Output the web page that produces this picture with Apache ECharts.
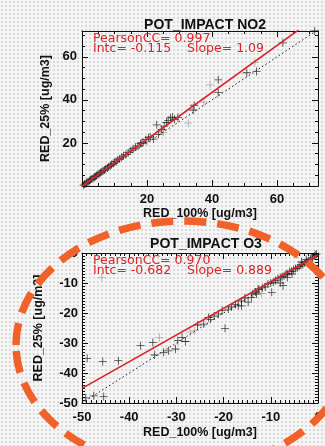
<!DOCTYPE html>
<html>
<head>
<meta charset="utf-8">
<script src="https://cdn.jsdelivr.net/npm/echarts@6/dist/echarts.min.js"></script>
<style>
html,body{margin:0;padding:0;}
body{width:325px;height:446px;background-color:#f5f5f5;background-image:radial-gradient(#d9d9d9 0.7px, transparent 0.9px);background-size:4px 4px;}
#chart{width:325px;height:446px;}
</style>
</head>
<body>
<div id="chart"></div>
<script>
// ---- data ----
const titles = ['POT_IMPACT NO2', 'POT_IMPACT O3'];
const xName = 'RED_100% [ug/m3]';
const yName = 'RED_25% [ug/m3]';
const statsNO2 = { pearson: '0.997', intc: '-0.115', slope: '1.09' };
const statsO3 = { pearson: '0.970', intc: '-0.682', slope: '0.889' };
const no2Black = [[0.5,0.4],[0.8,0.9],[1.2,1.1],[1.5,1.7],[1.9,2.0],[2.3,2.4],[2.6,2.9],[3.0,3.2],[3.4,3.6],[3.8,4.2],[4.1,4.4],[4.5,4.9],[4.9,5.3],[5.3,5.7],[5.7,6.3],[6.1,6.6],[6.5,7.1],[6.9,7.4],[7.3,8.0],[7.8,8.4],[8.2,9.0],[8.7,9.4],[9.1,10.0],[9.6,10.5],[10.1,11.2],[10.5,11.4],[11.0,12.1],[11.6,12.6],[12.2,13.4],[12.8,14.0],[13.5,14.6],[14.2,15.5],[15.0,16.3],[15.7,17.3],[16.5,18.1],[17.2,18.6],[18.0,19.8],[18.4,19.9],[18.8,20.3],[19.6,21.5],[20.5,22.5],[21.0,22.8],[22.0,21.8],[23.0,28.4],[23.5,24.0],[24.5,26.2],[25.3,27.8],[26.0,29.5],[26.5,30.5],[27.2,31.6],[27.8,32.0],[28.5,31.0],[29.5,31.8],[34.5,37.5],[34.2,35.3],[41.9,49.3],[41.9,43.4],[50.7,52.6],[53.7,53.2],[61.8,66.5],[71.6,72.0]];
const no2Grey = [[32.7,29.2],[39.4,47.0],[53.2,57.3],[25.0,24.8],[24.0,25.5],[20.0,20.6],[37.5,39.0]];
const o3Black = [[-0.3,-0.4],[-0.6,-0.5],[-0.8,-1.0],[-1.2,-1.6],[-1.6,-2.0],[-2.0,-2.6],[-2.4,-2.9],[-2.5,-2.2],[-2.8,-3.3],[-3.2,-3.8],[-3.5,-3.0],[-3.6,-4.0],[-4.0,-4.5],[-4.4,-5.0],[-4.8,-5.2],[-5.2,-5.6],[-5.5,-7.0],[-5.6,-6.1],[-6.0,-6.2],[-6.4,-6.8],[-6.5,-8.2],[-6.8,-7.1],[-7.2,-7.6],[-7.4,-10.9],[-7.6,-7.9],[-8.0,-8.2],[-8.0,-10.0],[-8.5,-8.6],[-9.0,-9.2],[-9.5,-9.7],[-9.8,-13.1],[-10.0,-10.0],[-10.6,-10.3],[-11.2,-11.3],[-11.8,-11.6],[-12.5,-12.2],[-12.7,-12.0],[-13.0,-13.7],[-13.2,-13.0],[-13.8,-13.6],[-14.1,-14.8],[-14.8,-16.4],[-15.5,-15.0],[-16.2,-17.6],[-16.2,-16.0],[-16.9,-17.6],[-17.5,-17.2],[-18.3,-18.0],[-19.0,-18.7],[-19.7,-25.1],[-20.3,-19.2],[-21.1,-20.3],[-22.0,-21.0],[-22.8,-22.1],[-23.2,-21.5],[-24.2,-23.7],[-25.5,-24.0],[-28.1,-29.5],[-28.8,-28.1],[-29.7,-29.2],[-30.2,-32.0],[-31.7,-32.6],[-32.7,-33.1],[-34.6,-34.0],[-35.0,-29.8],[-37.6,-30.9],[-42.3,-35.9],[-45.6,-36.2],[-48.9,-35.1],[-45.4,-47.8],[-47.5,-47.6],[-49.2,-48.3]];
const o3Grey = [[-33.6,-28.1],[-27.1,-26.4],[-26.1,-25.8],[-45.8,-8.1],[-12.0,-13.5]];
const rangeNO2 = { xmin: 0, xmax: 72.6, ymin: 0, ymax: 72, interval: 20 };
const rangeO3 = { xmin: -50, xmax: 0, ymin: -50, ymax: 0, interval: 10 };

// ---- chart ----
const plusPath = 'path://M4.5,0h1v4.5h4.5v1h-4.5v4.5h-1v-4.5h-4.5v-1h4.5z';
const font = 'Liberation Sans, Arial, sans-serif';
const annoFont = 'DejaVu Sans, sans-serif';

function axisPair(kind, gi, r, minorSplit, hideZero, nameGap, labelMargin) {
  const min = kind === 'x' ? r.xmin : r.ymin;
  const max = kind === 'x' ? r.xmax : r.ymax;
  const base = {
    gridIndex: gi, type: 'value', min: min, max: max, interval: r.interval,
    axisLine: { show: true, onZero: false, lineStyle: { color: '#111', width: 1 } },
    axisTick: { show: true, inside: true, length: 6, lineStyle: { color: '#111' } },
    minorTick: { show: true, splitNumber: minorSplit, length: 3, lineStyle: { color: '#111' } },
    splitLine: { show: false }
  };
  const main = Object.assign({}, base, {
    position: kind === 'x' ? 'bottom' : 'left',
    name: kind === 'x' ? xName : yName,
    nameLocation: 'middle', nameGap: nameGap,
    nameRotate: kind === 'x' ? 0 : 90,
    nameTextStyle: { fontFamily: font, fontSize: 12.5, fontWeight: 'bold', color: '#111' },
    axisLabel: {
      show: true, margin: labelMargin, fontFamily: font, fontSize: 13, fontWeight: 'bold', color: '#111',
      formatter: function (v) {
        if (Math.abs(v % r.interval) > 1e-9) return '';
        return (hideZero && v === 0) ? '' : String(v);
      }
    }
  });
  const other = Object.assign({}, base, {
    position: kind === 'x' ? 'top' : 'right',
    axisLabel: { show: false }
  });
  return [main, other];
}

const xAxes = [].concat(
  axisPair('x', 0, rangeNO2, 4, true, 20, 7),
  axisPair('x', 1, rangeO3, 10, false, 23, 8)
);
const yAxes = [].concat(
  axisPair('y', 0, rangeNO2, 4, true, 26, 5),
  axisPair('y', 1, rangeO3, 10, false, 37, 4)
);

function scatter(data, xi, yi, color) {
  return {
    type: 'scatter', xAxisIndex: xi, yAxisIndex: yi, data: data,
    symbol: plusPath, symbolSize: 8, silent: true,
    itemStyle: { color: color }
  };
}
function line(data, xi, yi, style) {
  return {
    type: 'line', xAxisIndex: xi, yAxisIndex: yi, data: data,
    symbol: 'none', silent: true, clip: true, lineStyle: style, z: 3
  };
}
function fitLine(st, r) {
  const a = parseFloat(st.intc), b = parseFloat(st.slope);
  return [[r.xmin, a + b * r.xmin], [r.xmax, a + b * r.xmax]];
}
const redStyle = { color: '#d9252a', width: 1.6 };
const dotStyle = { color: '#222', width: 1, type: [1.5, 2.5] };

function anno(st, top) {
  const s = { fill: '#d9252a', font: '12.5px ' + annoFont };
  return [
    { type: 'text', left: 93, top: top, z: 50, style: Object.assign({ text: 'PearsonCC= ' + st.pearson }, s) },
    { type: 'text', left: 93, top: top + 10.5, z: 50, style: Object.assign({ text: 'Intc= ' + st.intc }, s) },
    { type: 'text', left: 187, top: top + 10.5, z: 50, style: Object.assign({ text: 'Slope= ' + st.slope }, s) }
  ];
}

const chart = echarts.init(document.getElementById('chart'), null, { renderer: 'canvas' });
chart.setOption({
  animation: false,
  backgroundColor: 'transparent',
  title: [
    { text: titles[0], left: 200, top: 13, textAlign: 'center', textStyle: { fontFamily: font, fontSize: 14, fontWeight: 'bold', color: '#111' } },
    { text: titles[1], left: 201, top: 232, textAlign: 'center', textStyle: { fontFamily: font, fontSize: 14, fontWeight: 'bold', color: '#111' } }
  ],
  grid: [
    { left: 82, top: 31, width: 236, height: 155, show: false },
    { left: 82, top: 253, width: 236, height: 150, show: false }
  ],
  xAxis: xAxes,
  yAxis: yAxes,
  series: [
    line([[rangeNO2.xmin, rangeNO2.xmin], [rangeNO2.xmax, rangeNO2.xmax]], 0, 0, dotStyle),
    scatter(no2Grey, 0, 0, '#9a9a9a'),
    scatter(no2Black, 0, 0, '#111'),
    line(fitLine(statsNO2, rangeNO2), 0, 0, redStyle),
    line([[rangeO3.xmin, rangeO3.xmin], [rangeO3.xmax, rangeO3.xmax]], 2, 2, dotStyle),
    scatter(o3Grey, 2, 2, '#9a9a9a'),
    scatter(o3Black, 2, 2, '#111'),
    line(fitLine(statsO3, rangeO3), 2, 2, redStyle)
  ],
  graphic: [].concat(
    anno(statsNO2, 32),
    anno(statsO3, 254),
    [{ type: 'ellipse', z: 100, silent: true, shape: { cx: 183, cy: 345, rx: 167, ry: 124 }, style: { fill: 'none', stroke: '#f0622a', lineWidth: 7.5, lineDash: [22, 11] } }]
  )
});
</script>
</body>
</html>
